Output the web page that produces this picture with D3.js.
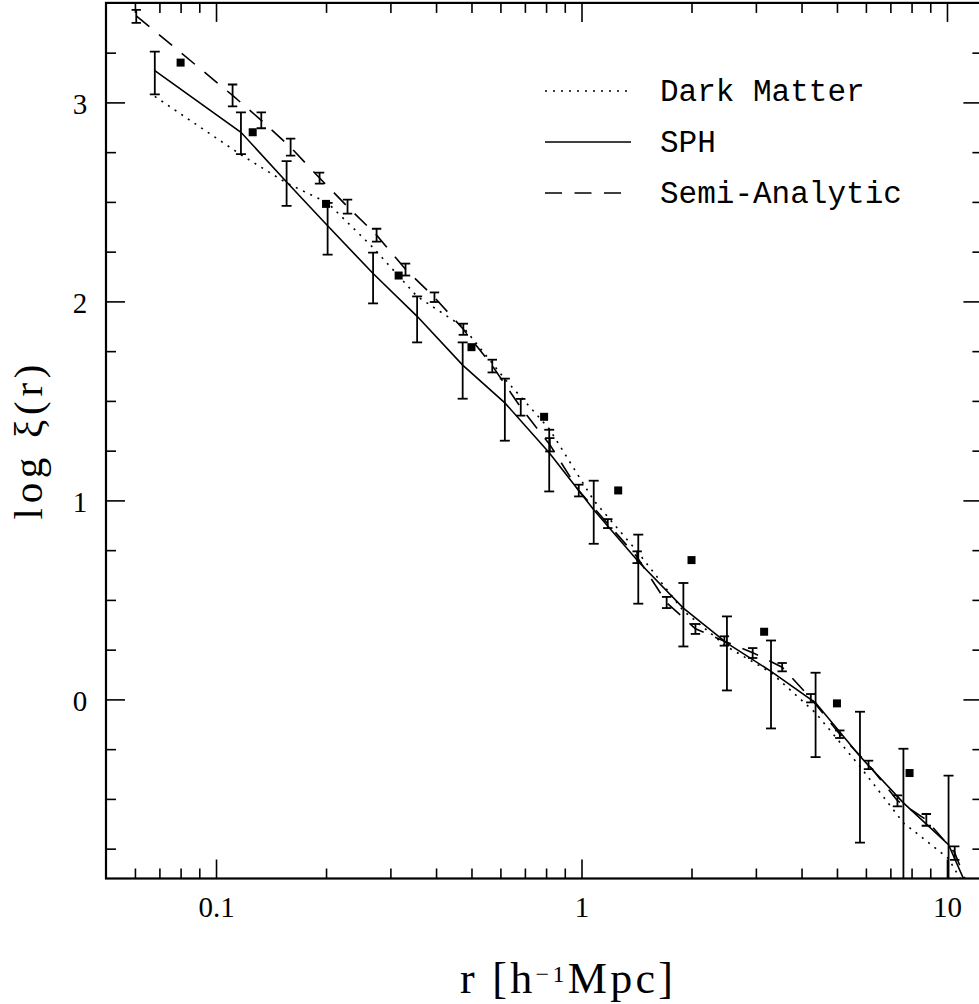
<!DOCTYPE html>
<html>
<head>
<meta charset="utf-8">
<script src="https://cdn.jsdelivr.net/npm/d3@7"></script>
<style>
  body { margin: 0; background: #fff; }
  svg { display: block; background: #fff; }
  .axis line { stroke: #000; stroke-width: 1.6px; }
  .axis text { font-family: "Liberation Serif", serif; font-size: 29px; fill: #000; }
  .legend text { font-family: "Liberation Mono", monospace; font-size: 31px; fill: #000; }
</style>
</head>
<body>
<div id="chart"></div>
<script>
// separation in h^-1 Mpc, values are log xi(r)
var sphR  = [0.068, 0.117, 0.156, 0.202, 0.269, 0.355, 0.473, 0.617, 0.816, 1.08, 1.43, 1.90, 2.50, 3.30, 4.37, 5.78, 7.60, 10.1, 13.3];
var sphLog = [3.16, 2.85, 2.60, 2.38, 2.14, 1.925, 1.68, 1.49, 1.24, 0.953, 0.693, 0.459, 0.283, 0.141, -0.017, -0.286, -0.52, -0.73, -1.23];
var sphHi  = [3.255, 2.95, 2.705, 2.495, 2.245, 2.025, 1.794, 1.612, 1.355, 1.099, 0.828, 0.585, 0.417, 0.296, 0.134, -0.062, -0.248, -0.383, null];
var sphLo  = [3.04, 2.74, 2.48, 2.235, 1.99, 1.794, 1.511, 1.30, 1.045, 0.782, 0.481, 0.266, 0.045, -0.146, -0.29, -0.72, null, null, null];

var dmLog = [3.03, 2.737, 2.595, 2.495, 2.27, 2.025, 1.874, 1.61, 1.36, 1.0, 0.737, 0.445, 0.265, 0.135, -0.068, -0.337, -0.62, -0.80, -1.18];

var saR   = [0.0605, 0.111, 0.133, 0.160, 0.192, 0.229, 0.275, 0.330, 0.396, 0.475, 0.570, 0.682, 0.819, 0.983, 1.18, 1.42, 1.71, 2.05, 2.46, 2.94, 3.54, 4.24, 5.09, 6.10, 7.32, 8.78, 10.5, 12.6];
var saLog = [3.435, 3.035, 2.91, 2.775, 2.62, 2.476, 2.333, 2.162, 2.02, 1.86, 1.677, 1.467, 1.28, 1.049, 0.883, 0.715, 0.486, 0.355, 0.292, 0.235, 0.162, 0.006, -0.175, -0.328, -0.509, -0.605, -0.77, -1.14];
var saHi  = [3.465, 3.09, 2.95, 2.818, 2.647, 2.511, 2.365, 2.19, 2.045, 1.888, 1.707, 1.51, 1.313, 1.079, 0.906, 0.744, 0.515, 0.379, 0.317, 0.258, 0.183, 0.027, -0.156, -0.308, -0.482, -0.576, -0.739, null];
var saLo  = [3.40, 2.98, 2.87, 2.733, 2.592, 2.441, 2.30, 2.13, 1.997, 1.832, 1.643, 1.426, 1.246, 1.02, 0.861, 0.685, 0.459, 0.329, 0.27, 0.208, 0.141, -0.015, -0.194, -0.35, -0.538, -0.635, -0.806, null];

// filled squares
var obsR   = [0.080, 0.126, 0.20, 0.316, 0.50, 0.79, 1.26, 2.0, 3.16, 5.0, 7.9];
var obsLog = [3.20, 2.85, 2.49, 2.13, 1.77, 1.42, 1.05, 0.70, 0.34, -0.02, -0.37];

var xMajor = [0.1, 1, 10];
var xLabels = ["0.1", "1", "10"];
var xMinor = [0.06, 0.07, 0.08, 0.09, 0.2, 0.3, 0.4, 0.5, 0.6, 0.7, 0.8, 0.9, 2, 3, 4, 5, 6, 7, 8, 9];
var yMajor = [0, 1, 2, 3];
var yLabels = ["0", "1", "2", "3"];
var yMinor = [-0.75, -0.5, -0.25, 0.25, 0.5, 0.75, 1.25, 1.5, 1.75, 2.25, 2.5, 2.75, 3.25];

var legendNames = ["Dark Matter", "SPH", "Semi-Analytic"];
var legendDash = ["2,6", null, "17,12.5"];

var width = 979, height = 1004;
var margin = {left: 106, right: 982.4, top: 2.9, bottom: 878.5};

var svg = d3.select("#chart")
  .append("svg")
  .attr("width", width)
  .attr("height", height);

var x = d3.scaleLog().domain([0.05, 12.5]).range([margin.left, margin.right]);
var y = d3.scaleLinear().domain([-0.9, 3.5]).range([margin.bottom, margin.top]);

svg.append("clipPath")
  .attr("id", "plotclip")
  .append("rect")
  .attr("x", margin.left)
  .attr("y", margin.top)
  .attr("width", margin.right - margin.left)
  .attr("height", margin.bottom - margin.top);

// ticks
function addAxis(axis, tx, ty) {
  var g = svg.append("g")
    .attr("class", "axis")
    .attr("transform", "translate(" + tx + "," + ty + ")")
    .call(axis);
  g.select(".domain").remove();
  return g;
}

var xb = addAxis(d3.axisBottom(x).tickValues(xMajor).tickSize(-19).tickSizeOuter(0)
  .tickFormat(function(d, i) { return xLabels[i]; }), 0, margin.bottom);
xb.selectAll("text").attr("y", 38).attr("dy", null);
addAxis(d3.axisBottom(x).tickValues(xMinor).tickSize(-10).tickSizeOuter(0).tickFormat(""), 0, margin.bottom);
addAxis(d3.axisTop(x).tickValues(xMajor).tickSize(-19).tickSizeOuter(0).tickFormat(""), 0, margin.top);
addAxis(d3.axisTop(x).tickValues(xMinor).tickSize(-10).tickSizeOuter(0).tickFormat(""), 0, margin.top);

var yl = addAxis(d3.axisLeft(y).tickValues(yMajor).tickSize(-19).tickSizeOuter(0)
  .tickFormat(function(d, i) { return yLabels[i]; }), margin.left, 0);
yl.selectAll("text").attr("x", -26).attr("dy", "11px").attr("text-anchor", "middle");
addAxis(d3.axisLeft(y).tickValues(yMinor).tickSize(-10).tickSizeOuter(0).tickFormat(""), margin.left, 0);
addAxis(d3.axisRight(y).tickValues(yMajor).tickSize(-19).tickSizeOuter(0).tickFormat(""), margin.right, 0);
addAxis(d3.axisRight(y).tickValues(yMinor).tickSize(-10).tickSizeOuter(0).tickFormat(""), margin.right, 0);

// frame
svg.append("rect")
  .attr("x", margin.left)
  .attr("y", margin.top)
  .attr("width", margin.right - margin.left)
  .attr("height", margin.bottom - margin.top)
  .style("fill", "none")
  .style("stroke", "#000")
  .style("stroke-width", 2.2);

var plot = svg.append("g").attr("clip-path", "url(#plotclip)");

var line = d3.line()
  .x(function(d) { return x(d[0]); })
  .y(function(d) { return y(d[1]); });

// lines
plot.append("path")
  .datum(d3.zip(sphR, dmLog))
  .attr("d", line)
  .style("fill", "none").style("stroke", "#000").style("stroke-width", 1.6)
  .style("stroke-dasharray", legendDash[0]);

plot.append("path")
  .datum(d3.zip(sphR, sphLog))
  .attr("d", line)
  .style("fill", "none").style("stroke", "#000").style("stroke-width", 1.6);

plot.append("path")
  .datum(d3.zip(saR, saLog))
  .attr("d", line)
  .style("fill", "none").style("stroke", "#000").style("stroke-width", 1.6)
  .style("stroke-dasharray", legendDash[2]);

// error bars
function errorBars(r, hi, lo, capHalf) {
  var pts = d3.range(r.length).filter(function(i) { return hi[i] !== null; })
    .map(function(i) { return {r: r[i], hi: hi[i], lo: lo[i]}; });
  var g = plot.append("g").style("stroke", "#000").style("stroke-width", 1.8);
  g.selectAll(".bar").data(pts).enter().append("line")
    .attr("x1", d => x(d.r)).attr("x2", d => x(d.r))
    .attr("y1", d => y(d.hi))
    .attr("y2", d => d.lo === null ? margin.bottom + 5 : y(d.lo));
  g.selectAll(".capHi").data(pts).enter().append("line")
    .attr("x1", d => x(d.r) - capHalf).attr("x2", d => x(d.r) + capHalf)
    .attr("y1", d => y(d.hi)).attr("y2", d => y(d.hi));
  g.selectAll(".capLo").data(pts.filter(d => d.lo !== null)).enter().append("line")
    .attr("x1", d => x(d.r) - capHalf).attr("x2", d => x(d.r) + capHalf)
    .attr("y1", d => y(d.lo)).attr("y2", d => y(d.lo));
}
errorBars(sphR, sphHi, sphLo, 5);
errorBars(saR, saHi, saLo, 4.7);

// squares
plot.selectAll(".sq")
  .data(d3.zip(obsR, obsLog))
  .enter()
  .append("rect")
  .attr("x", d => x(d[0]) - 4)
  .attr("y", d => y(d[1]) - 4)
  .attr("width", 8)
  .attr("height", 8)
  .style("fill", "#000");

// legend
var legend = svg.append("g").attr("class", "legend");
legendNames.forEach(function(name, i) {
  var ly = 91 + i * 51;
  var l = legend.append("line")
    .attr("x1", 545).attr("x2", 631)
    .attr("y1", ly).attr("y2", ly)
    .style("stroke", "#000").style("stroke-width", 1.6);
  if (legendDash[i]) l.style("stroke-dasharray", legendDash[i]);
  legend.append("text")
    .attr("x", 660)
    .attr("y", ly + 10)
    .text(name);
});

// axis titles
svg.append("text")
  .attr("transform", "translate(42,442) rotate(-90)")
  .attr("text-anchor", "middle")
  .attr("textLength", 155)
  .attr("lengthAdjust", "spacing")
  .style("font-family", "Liberation Serif, serif")
  .style("font-size", "41px")
  .text("log \u03be(r)");

var xt = svg.append("text")
  .attr("x", 566.5)
  .attr("y", 993)
  .attr("text-anchor", "middle")
  .attr("textLength", 213)
  .attr("lengthAdjust", "spacing")
  .style("font-family", "Liberation Serif, serif")
  .style("font-size", "44px");
xt.append("tspan").text("r [h");
xt.append("tspan").attr("dy", -11).style("font-size", "24px").text("\u22121");
xt.append("tspan").attr("dy", 11).text("Mpc]");
</script>
</body>
</html>
